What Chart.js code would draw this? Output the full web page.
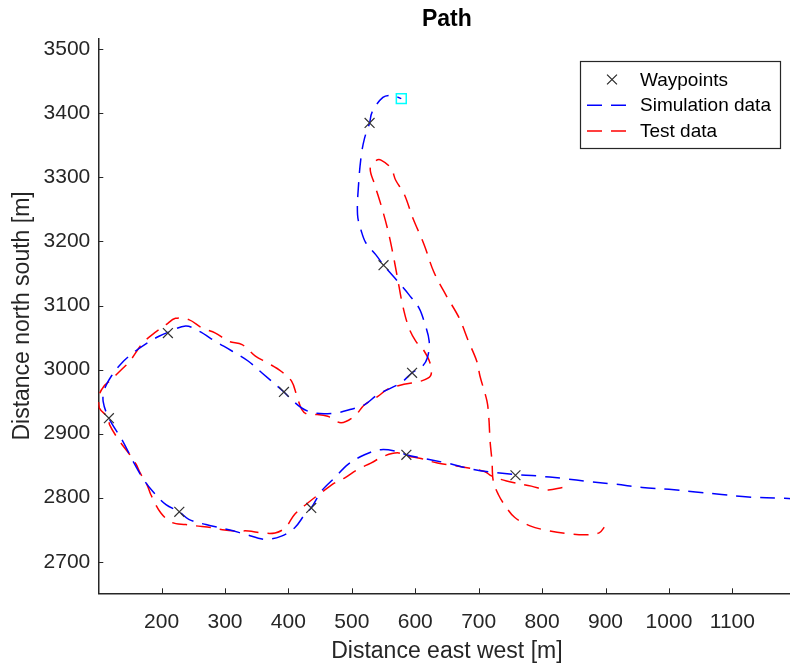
<!DOCTYPE html>
<html>
<head>
<meta charset="utf-8">
<title>Path</title>
<script src="https://cdn.jsdelivr.net/npm/chart.js@4.4.1/dist/chart.umd.min.js"></script>
<style>
  html, body { margin: 0; padding: 0; background: #fff; overflow: hidden; }
  #wrap { width: 804px; height: 666px; }
</style>
</head>
<body>
<div id="wrap"><canvas id="path" width="804" height="666"></canvas></div>
<script>
// tick labels
const xTicks = [200, 300, 400, 500, 600, 700, 800, 900, 1000, 1100];
const yTicks = [2700, 2800, 2900, 3000, 3100, 3200, 3300, 3400, 3500];

// waypoints (x = east west, y = north south), in path order
const wpX = [758, 586, 436, 228, 117, 210, 393, 595, 550, 528];
const wpY = [2835, 2867, 2784, 2778, 2924, 3057, 2965, 2995, 3163, 3385];

// simulation run, from the east end to the last waypoint
const simX = [1205, 1182, 1125, 1083, 1042, 1000, 958, 916, 875, 833, 791, 758, 728, 692, 650, 609, 586, 572, 546, 520,
  494, 473, 452, 436, 426, 410, 389, 363, 332, 306, 270, 243, 228, 207, 186, 170, 155, 139, 117, 108,
  110, 121, 137, 155, 178, 196, 210, 238, 259, 285, 311, 337, 358, 393, 400, 421, 442, 473, 499, 520,
  541, 577, 595, 611, 619, 622, 614, 606, 590, 572, 550, 538, 522, 515, 509, 511, 515, 520, 528, 532,
  549, 564, 578];
const simY = [2797, 2799, 2801, 2805, 2809, 2813, 2816, 2821, 2825, 2830, 2834, 2836, 2839, 2844, 2854, 2862, 2867, 2872, 2875, 2867,
  2852, 2831, 2810, 2784, 2774, 2753, 2740, 2735, 2743, 2750, 2758, 2766, 2778, 2789, 2810, 2831, 2857, 2888, 2924, 2950,
  2969, 2990, 3010, 3026, 3042, 3052, 3058, 3068, 3060, 3044, 3029, 3013, 2995, 2965, 2958, 2940, 2932, 2932, 2938, 2945,
  2961, 2979, 2995, 3005, 3018, 3044, 3075, 3096, 3117, 3138, 3163, 3179, 3198, 3216, 3242, 3294, 3335, 3361, 3385, 3402,
  3425, 3428, 3423];

// test run
const testX = [832, 809, 783, 744, 720, 709, 662, 635, 609, 588, 572, 551, 530, 509, 489, 473, 452, 431, 410, 395,
  379, 358, 337, 316, 296, 280, 254, 238, 217, 199, 183, 178, 165, 160, 150, 134, 118, 117, 102, 102,
  110, 118, 139, 150, 170, 186, 207, 222, 243, 264, 285, 306, 327, 348, 368, 389, 405, 413, 421, 430,
  442, 462, 483, 504, 520, 541, 556, 582, 609, 624, 624, 614, 601, 590, 580, 572, 564, 556, 546, 536,
  529, 538, 546, 562, 569, 583, 596, 614, 629, 648, 669, 684, 697, 702, 713, 716, 718, 721, 723, 731,
  742, 757, 781, 807, 838, 869, 890, 898];
const testY = [2816, 2812, 2818, 2826, 2834, 2841, 2850, 2854, 2861, 2865, 2870, 2865, 2854, 2844, 2831, 2823, 2808, 2792, 2774, 2753,
  2745, 2745, 2748, 2748, 2750, 2753, 2756, 2758, 2761, 2776, 2805, 2818, 2841, 2852, 2867, 2888, 2914, 2924, 2940, 2961,
  2975, 2982, 3002, 3013, 3041, 3055, 3070, 3080, 3078, 3065, 3057, 3044, 3039, 3021, 3010, 2997, 2982, 2960, 2938, 2930,
  2930, 2927, 2917, 2927, 2945, 2958, 2969, 2977, 2982, 2990, 3008, 3029, 3044, 3065, 3101, 3143, 3185, 3221, 3257, 3289,
  3314, 3326, 3327, 3314, 3296, 3273, 3237, 3195, 3153, 3117, 3081, 3044, 3013, 2990, 2951, 2925, 2888, 2857, 2826, 2805,
  2787, 2769, 2756, 2749, 2744, 2742, 2745, 2754];

// final position marker
const endX = [578];
const endY = [3423];

const FONT = "'Liberation Sans', Arial, Helvetica, sans-serif";
const INK = '#262626';
const zip = (xs, ys) => xs.map((x, i) => ({ x, y: ys[i] }));

// MATLAB style ticks pointing into the axes
const inwardTicks = {
  id: 'inwardTicks',
  afterDraw(chart) {
    const { ctx, chartArea, scales } = chart;
    ctx.save();
    ctx.strokeStyle = INK;
    ctx.lineWidth = 1;
    ctx.beginPath();
    scales.x.ticks.forEach(t => {
      const px = Math.round(scales.x.getPixelForValue(t.value)) + 0.5;
      ctx.moveTo(px, chartArea.bottom);
      ctx.lineTo(px, chartArea.bottom - 5);
    });
    scales.y.ticks.forEach(t => {
      const py = Math.round(scales.y.getPixelForValue(t.value)) + 0.5;
      ctx.moveTo(chartArea.left, py);
      ctx.lineTo(chartArea.left + 5, py);
    });
    ctx.stroke();
    ctx.restore();
  }
};

// boxed legend in the north east corner of the axes
const boxLegend = {
  id: 'boxLegend',
  afterDatasetsDraw(chart) {
    const ctx = chart.ctx;
    const x0 = 580.5, y0 = 61.5, w = 200, h = 87;
    ctx.save();
    ctx.fillStyle = '#fff';
    ctx.fillRect(x0, y0, w, h);
    ctx.strokeStyle = INK;
    ctx.lineWidth = 1.2;
    ctx.strokeRect(x0, y0, w, h);
    chart.data.datasets.filter(ds => !ds.hideInLegend).forEach((ds, i) => {
      const cy = y0 + 18 + i * 25.7;
      if (ds.showLine) {
        ctx.save();
        ctx.strokeStyle = ds.borderColor;
        ctx.lineWidth = ds.borderWidth;
        ctx.setLineDash(ds.borderDash);
        ctx.beginPath();
        ctx.moveTo(587, cy);
        ctx.lineTo(629, cy);
        ctx.stroke();
        ctx.restore();
      } else {
        Chart.helpers.drawPoint(ctx, {
          pointStyle: ds.pointStyle, radius: ds.pointRadius, borderWidth: ds.pointBorderWidth
        }, 612, cy);
      }
      ctx.fillStyle = '#000';
      ctx.font = '19px ' + FONT;
      ctx.textBaseline = 'middle';
      ctx.textAlign = 'left';
      ctx.fillText(ds.label, 640, cy + 1);
    });
    ctx.restore();
  }
};

const lineStyle = { showLine: true, pointRadius: 0, borderWidth: 1.5, borderDash: [15, 9], tension: 0.35, fill: false };
const tickFont = { family: FONT, size: 21 };
const labelFont = { family: FONT, size: 23 };

new Chart(document.getElementById('path'), {
  type: 'scatter',
  data: {
    datasets: [
      { label: 'Waypoints', data: zip(wpX, wpY), showLine: false, pointStyle: 'crossRot', pointRadius: 7,
        pointBorderWidth: 1.2, borderColor: '#333', backgroundColor: '#333', pointBorderColor: '#333' },
      { label: 'Simulation data', data: zip(simX, simY), borderColor: '#0000ff', ...lineStyle },
      { label: 'Test data', data: zip(testX, testY), borderColor: '#ff0000', ...lineStyle },
      { label: 'End', hideInLegend: true, data: zip(endX, endY), showLine: false, pointStyle: 'rect', pointRadius: 7,
        pointBorderWidth: 1.5, pointBorderColor: '#00ffff', pointBackgroundColor: 'rgba(0,0,0,0)' }
    ]
  },
  options: {
    responsive: false,
    animation: false,
    layout: { padding: { left: 0, right: 3, top: 0, bottom: 0 } },
    plugins: {
      legend: { display: false },
      tooltip: { enabled: false },
      title: {
        display: true, text: 'Path', fullSize: false, color: '#000',
        font: { family: FONT, size: 23, weight: 'bold' },
        padding: { top: 6, bottom: 5 }
      }
    },
    scales: {
      x: {
        type: 'linear', min: 100.3, max: 1199.5,
        grid: { display: false, drawTicks: false },
        border: { display: true, color: INK, width: 1.5 },
        ticks: { color: INK, padding: 16, maxRotation: 0, autoSkip: false, font: tickFont, callback: v => String(v) },
        title: { display: true, text: 'Distance east west [m]', color: INK, font: labelFont, padding: { top: 0, bottom: 1 } },
        afterBuildTicks(axis) { axis.ticks = xTicks.map(v => ({ value: v })); },
        afterFit(axis) { axis.height = 72.7; }
      },
      y: {
        type: 'linear', min: 2650.7, max: 3516.7,
        grid: { display: false, drawTicks: false },
        border: { display: true, color: INK, width: 1.5 },
        ticks: { color: INK, padding: 8, autoSkip: false, font: tickFont, callback: v => String(v) },
        title: { display: true, text: 'Distance north south [m]', color: INK, font: labelFont, padding: { top: 9, bottom: 0 } },
        afterBuildTicks(axis) { axis.ticks = yTicks.map(v => ({ value: v })); },
        afterFit(axis) { axis.width = 98.3; }
      }
    }
  },
  plugins: [inwardTicks, boxLegend]
});
</script>
</body>
</html>
